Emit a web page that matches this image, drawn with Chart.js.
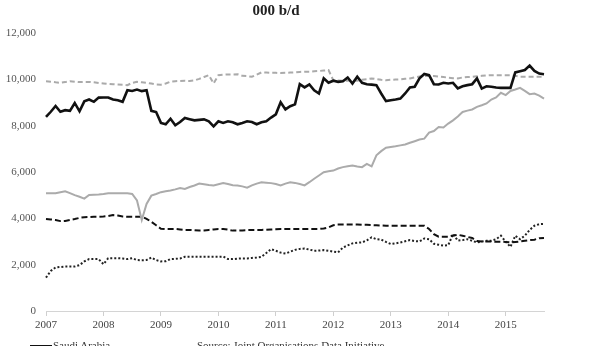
<!DOCTYPE html>
<html>
<head>
<meta charset="utf-8">
<script src="https://cdn.jsdelivr.net/npm/chart.js@4"></script>
<style>
  html, body { margin: 0; padding: 0; background: #fff; overflow: hidden; }
  body { width: 616px; height: 346px; position: relative; font-family: "Liberation Serif", "DejaVu Serif", serif; }
  #wrap { position: absolute; left: 0; top: 0; width: 616px; height: 346px; }
  .title { position: absolute; top: 2px; left: 176px; width: 200px; text-align: center; font-weight: bold; font-size: 15px; color: #222; }
  .legend { position: absolute; left: 30px; top: 338px; font-size: 11px; color: #333; }
  .legend div { height: 14px; line-height: 14px; white-space: nowrap; }
  .legend span.swatch { display: inline-block; width: 22px; height: 0; vertical-align: middle; margin-right: 1px; }
  .source { position: absolute; left: 197px; top: 338px; font-size: 11px; color: #333; line-height: 14px; }
</style>
</head>
<body>
<div id="wrap"><canvas id="oilChart" width="616" height="346"></canvas></div>
<div class="title">000 b/d</div>
<div class="legend" id="legend"></div>
<div class="source">Source: Joint Organisations Data Initiative</div>
<script>
// monthly, Jan 2007 .. Sep 2015
const years = [2007, 2008, 2009, 2010, 2011, 2012, 2013, 2014, 2015];
const lastMonth = 9; // data ends Sep 2015
const yTicks = [0, 2000, 4000, 6000, 8000, 10000, 12000];

const saudi = [
  8375, 8600, 8850, 8600, 8670, 8640, 8980, 8620, 9050, 9130, 9030, 9210,
  9215, 9215, 9130, 9100, 9030, 9530, 9500, 9560, 9490, 9530, 8640, 8590,
  8120, 8060, 8300, 8020, 8160, 8330, 8280, 8230, 8250, 8270, 8190, 7970,
  8190, 8120, 8190, 8150, 8060, 8120, 8190, 8160, 8060, 8150, 8190, 8350,
  8490, 9010, 8700, 8840, 8920, 9790, 9650, 9780, 9530, 9390, 10040, 9850,
  9940, 9890, 9920, 10080, 9820, 10110, 9850, 9790, 9770, 9750, 9390, 9060,
  9100, 9130, 9170, 9390, 9650, 9680, 10040, 10230, 10180, 9790, 9780, 9850,
  9820, 9850, 9610, 9700, 9750, 9790, 10040, 9600, 9700, 9680, 9650, 9630,
  9630, 9630, 10300, 10350, 10400, 10590, 10360, 10250, 10220
];
const russia = [
  9920, 9900, 9870, 9850, 9880, 9920, 9900, 9880, 9890, 9890, 9870, 9840,
  9820, 9800, 9790, 9780, 9770, 9750, 9850, 9890, 9870, 9850, 9820, 9780,
  9770, 9820, 9900, 9920, 9930, 9940, 9930, 9950, 10020, 10100, 10180, 9820,
  10180, 10200, 10210, 10210, 10220, 10150, 10140, 10110, 10200, 10300, 10290, 10280,
  10280, 10270, 10280, 10290, 10300, 10320, 10330, 10330, 10350, 10360, 10380, 10400,
  9960, 9950, 9940, 9940, 9950, 9940, 9980, 10000, 10040, 10010, 9980, 9960,
  9980, 9990, 10000, 10020, 10040, 10080, 10120, 10140, 10140, 10140, 10120, 10100,
  10070, 10050, 10040, 10080, 10100, 10110, 10130, 10150, 10170, 10180, 10180, 10180,
  10180, 10180, 10150, 10110, 10110, 10110, 10110, 10110, 10110
];
const usa = [
  5080, 5080, 5080, 5130, 5170, 5090, 5000, 4930, 4850, 5010, 5020, 5030,
  5050, 5080, 5080, 5080, 5080, 5080, 5050, 4770, 3930, 4620, 4980, 5050,
  5130, 5170, 5200, 5250, 5310, 5270, 5350, 5420, 5500, 5470, 5440, 5420,
  5470, 5520, 5480, 5430, 5420, 5380, 5320, 5420, 5500, 5560, 5540, 5520,
  5480, 5420, 5500, 5560, 5530, 5480, 5420, 5560, 5710, 5850, 5990, 6030,
  6060, 6150, 6210, 6250, 6280, 6240, 6210, 6350, 6240, 6720, 6900, 7050,
  7080, 7110, 7150, 7190, 7260, 7330, 7400, 7440, 7700, 7770, 7940, 7920,
  8090, 8230, 8400, 8590, 8650, 8700, 8810, 8880, 8960, 9130, 9220, 9420,
  9320, 9500, 9560, 9630, 9500, 9360, 9390, 9300, 9170
];
const iran = [
  3970, 3950, 3930, 3880, 3890, 3930, 3970, 4020, 4050, 4060, 4070, 4070,
  4080, 4100, 4140, 4120, 4080, 4070, 4070, 4070, 4070, 3980, 3850, 3700,
  3550, 3540, 3540, 3540, 3520, 3500, 3500, 3490, 3470, 3480, 3500, 3520,
  3540, 3540, 3510, 3470, 3470, 3480, 3490, 3500, 3500, 3500, 3510, 3520,
  3530, 3540, 3540, 3540, 3540, 3540, 3540, 3540, 3540, 3540, 3560, 3610,
  3700, 3730, 3730, 3730, 3730, 3730, 3720, 3720, 3710, 3700, 3690, 3680,
  3680, 3680, 3680, 3680, 3680, 3680, 3680, 3680, 3540, 3320, 3210, 3210,
  3210, 3260, 3290, 3250, 3200, 3150, 3020, 3000, 3000, 3000, 2990, 2990,
  2980, 2960, 2980, 3000, 3030, 3060, 3080, 3140, 3150
];
const iraq = [
  1440, 1730, 1880, 1900, 1920, 1920, 1920, 1980, 2140, 2240, 2240, 2240,
  2020, 2280, 2280, 2280, 2270, 2240, 2280, 2200, 2190, 2200, 2310, 2200,
  2140, 2150, 2240, 2250, 2270, 2340, 2340, 2340, 2340, 2340, 2340, 2340,
  2340, 2350, 2240, 2240, 2260, 2270, 2270, 2290, 2310, 2340, 2500, 2670,
  2600, 2520, 2480, 2560, 2640, 2680, 2700, 2650, 2600, 2610, 2630, 2600,
  2560, 2530, 2740, 2830, 2920, 2950, 2960, 3050, 3180, 3100, 3080, 2980,
  2890, 2920, 2960, 3010, 3060, 3020, 3000, 3130, 3100, 2900, 2860, 2820,
  2840, 3320, 3040, 3060, 3100, 3030, 2960, 3000, 3030, 3030, 3100, 3250,
  2990, 2770, 3250, 3100, 3250, 3500, 3680, 3750, 3760
];

// month labels
const months = [];
years.forEach(y => {
  for (let m = 1; m <= 12; m++) {
    if (y === years[years.length - 1] && m > lastMonth) break;
    months.push(y + '-' + String(m).padStart(2, '0'));
  }
});

const ctx = document.getElementById('oilChart');
const chart = new Chart(ctx, {
  type: 'line',
  data: {
    labels: months,
    datasets: [
      { label: 'Saudi Arabia', data: saudi, borderColor: '#111', borderWidth: 2.6 },
      { label: 'Russia', data: russia, borderColor: '#aaaaaa', borderWidth: 2, borderDash: [5, 3] },
      { label: 'United States', data: usa, borderColor: '#ababab', borderWidth: 2 },
      { label: 'Iran', data: iran, borderColor: '#111', borderWidth: 2, borderDash: [6, 3] },
      { label: 'Iraq', data: iraq, borderColor: '#222', borderWidth: 2, borderDash: [2, 2] }
    ]
  },
  options: {
    responsive: false,
    animation: false,
    elements: { point: { radius: 0 }, line: { tension: 0 } },
    layout: { padding: { top: 33, right: 72, left: 0, bottom: 0 } },
    plugins: { legend: { display: false }, tooltip: { enabled: false } },
    scales: {
      x: {
        grid: {
          drawOnChartArea: false,
          drawTicks: true,
          tickLength: 5,
          color: c => (c.index % 12 === 0 ? '#cfcfcf' : 'rgba(0,0,0,0)')
        },
        border: { display: true, color: '#d4d4d4', width: 1 },
        ticks: {
          autoSkip: false,
          maxRotation: 0,
          padding: 3,
          color: '#444',
          font: { family: 'Liberation Serif', size: 11 },
          callback: (v, i) => (i % 12 === 0 ? months[i].slice(0, 4) : '')
        },
        afterFit: s => { s.height = 35; }
      },
      y: {
        min: 0,
        max: 12000,
        afterBuildTicks: s => { s.ticks = yTicks.map(v => ({ value: v })); },
        grid: { display: false },
        border: { display: false },
        ticks: {
          padding: 2,
          color: '#555',
          font: { family: 'Liberation Serif', size: 11 },
          callback: v => v.toLocaleString('en-US')
        },
        afterFit: s => { s.width = 46; }
      }
    }
  }
});

// legend below the chart, one row per series
const legendEl = document.getElementById('legend');
chart.data.datasets.forEach(ds => {
  const row = document.createElement('div');
  const sw = document.createElement('span');
  sw.className = 'swatch';
  sw.style.borderTop = ds.borderWidth + 'px ' + (ds.borderDash ? (ds.borderDash[0] > 3 ? 'dashed' : 'dotted') : 'solid') + ' ' + ds.borderColor;
  row.appendChild(sw);
  row.appendChild(document.createTextNode(ds.label));
  legendEl.appendChild(row);
});
</script>
</body>
</html>
